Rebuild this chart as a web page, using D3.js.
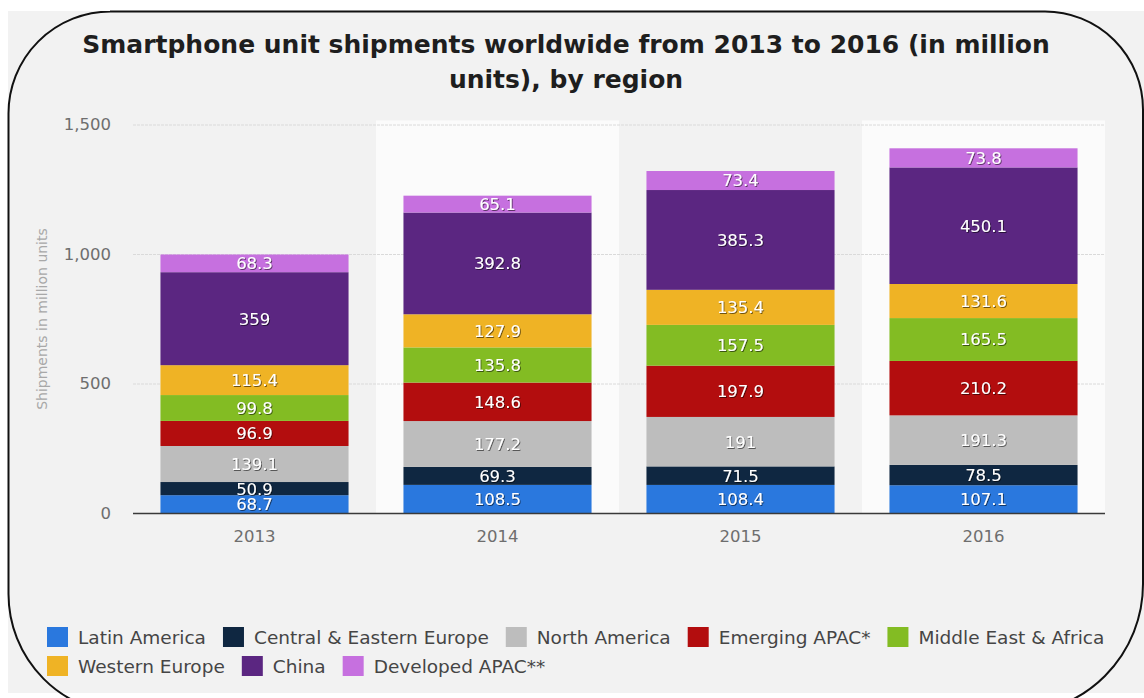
<!DOCTYPE html>
<html>
<head>
<meta charset="utf-8">
<script src="https://cdn.jsdelivr.net/npm/d3@7"></script>
<style>
  html, body { margin: 0; padding: 0; background: #ffffff; }
  svg { display: block; font-family: "DejaVu Sans", Verdana, sans-serif; }
</style>
</head>
<body>
<svg id="chart" width="1144" height="698"></svg>
<script>
// Smartphone shipments by region, million units
const years = ["2013", "2014", "2015", "2016"];
const regions = ["Latin America", "Central & Eastern Europe", "North America", "Emerging APAC*",
                 "Middle East & Africa", "Western Europe", "China", "Developed APAC**"];
const latinAmerica        = [68.7, 108.5, 108.4, 107.1];
const centralEasternEurope = [50.9, 69.3, 71.5, 78.5];
const northAmerica        = [139.1, 177.2, 191, 191.3];
const emergingApac        = [96.9, 148.6, 197.9, 210.2];
const middleEastAfrica    = [99.8, 135.8, 157.5, 165.5];
const westernEurope       = [115.4, 127.9, 135.4, 131.6];
const china               = [359, 392.8, 385.3, 450.1];
const developedApac       = [68.3, 65.1, 73.4, 73.8];
const yTicks = [0, 500, 1000, 1500];
const colors = ["#2a78de", "#0f2741", "#bdbdbd", "#b30d0e", "#83bc23", "#efb325", "#5b2681", "#c670df"];

const seriesValues = [latinAmerica, centralEasternEurope, northAmerica, emergingApac,
                      middleEastAfrica, westernEurope, china, developedApac];

// table rows: one per year, one key per region
const table = years.map((yr, i) => {
  const row = { year: yr };
  regions.forEach((r, k) => { row[r] = seriesValues[k][i]; });
  return row;
});

const svg = d3.select("#chart");

// screenshot-style backdrop and rounded frame
svg.append("rect").attr("x", 8).attr("y", 11).attr("width", 1136).attr("height", 682).attr("fill", "#f2f2f2");

const defs = svg.append("defs");
const shadow = defs.append("filter").attr("id", "lblShadow")
  .attr("x", "-20%").attr("y", "-30%").attr("width", "140%").attr("height", "160%");
shadow.append("feDropShadow").attr("dx", 0.9).attr("dy", 0.9).attr("stdDeviation", 0.7)
  .attr("flood-color", "#000").attr("flood-opacity", 0.6);

const x = d3.scaleBand().domain(years).range([133, 1105]).paddingInner(0).paddingOuter(0);
const barW = x.bandwidth() * 0.774;
const y = d3.scaleLinear().domain([0, 1500]).range([513, 124.5]);

// alternate column shading
svg.append("g").selectAll("rect").data(years.filter((d, i) => i % 2 === 1)).join("rect")
  .attr("x", d => x(d)).attr("width", x.bandwidth())
  .attr("y", y(1500) - 4).attr("height", y(0) - y(1500) + 4)
  .attr("fill", "#fbfbfb");

// gridlines
svg.append("g").selectAll("line").data(yTicks.filter(t => t > 0)).join("line")
  .attr("x1", 133).attr("x2", 1105)
  .attr("y1", d => y(d) + 0.5).attr("y2", d => y(d) + 0.5)
  .attr("stroke", "#dadada").attr("stroke-width", 1).attr("stroke-dasharray", "3,1");

// y tick labels
svg.append("g").selectAll("text").data(yTicks).join("text")
  .attr("x", 111).attr("y", d => y(d)).attr("dy", "0.36em")
  .attr("text-anchor", "end").attr("font-size", 16.5).attr("fill", "#6e6e6e")
  .text(d => d3.format(",")(d));

// y axis title
svg.append("text")
  .attr("transform", "translate(47,319) rotate(-90)")
  .attr("text-anchor", "middle").attr("font-size", 14).attr("fill", "#a8a8a8")
  .text("Shipments in million units");

// stacked bars
const stack = d3.stack().keys(regions)(table);
const layers = svg.append("g").selectAll("g").data(stack).join("g")
  .attr("fill", (d, i) => colors[i]);
layers.selectAll("rect").data(d => d).join("rect")
  .attr("x", d => x(d.data.year) + (x.bandwidth() - barW) / 2)
  .attr("width", barW)
  .attr("y", d => y(d[1]))
  .attr("height", d => y(d[0]) - y(d[1]));

// value labels inside segments
const labels = svg.append("g").attr("filter", "url(#lblShadow)");
stack.forEach(layer => {
  labels.selectAll(null).data(layer).join("text")
    .attr("x", d => x(d.data.year) + x.bandwidth() / 2)
    .attr("y", d => (y(d[0]) + y(d[1])) / 2)
    .attr("dy", "0.36em")
    .attr("text-anchor", "middle").attr("font-size", 16.5).attr("fill", "#ffffff")
    .text(d => String(d.data[layer.key]));
});

// baseline
svg.append("line").attr("x1", 133).attr("x2", 1105)
  .attr("y1", y(0) + 0.5).attr("y2", y(0) + 0.5)
  .attr("stroke", "#3a3a3a").attr("stroke-width", 1.5);

// x labels
svg.append("g").selectAll("text").data(years).join("text")
  .attr("x", d => x(d) + x.bandwidth() / 2).attr("y", 542)
  .attr("text-anchor", "middle").attr("font-size", 16.5).attr("fill", "#6e6e6e")
  .text(d => d);

// title
const title = svg.append("text").attr("text-anchor", "middle")
  .attr("font-size", 25).attr("font-weight", "bold").attr("fill", "#1e1e1e");
title.append("tspan").attr("x", 566).attr("y", 53)
  .text("Smartphone unit shipments worldwide from 2013 to 2016 (in million");
title.append("tspan").attr("x", 566).attr("y", 88).text("units), by region");

// legend
const legend = svg.append("g");
const rowBreak = 5;
let lx = 47;
regions.forEach((name, i) => {
  if (i === rowBreak) lx = 47;
  const row = i < rowBreak ? 0 : 1;
  const cy = 637 + row * 29;
  const g = legend.append("g");
  g.append("rect").attr("x", lx).attr("y", cy - 10).attr("width", 21).attr("height", 20)
    .attr("fill", colors[i]);
  const t = g.append("text").attr("x", lx + 31).attr("y", cy).attr("dy", "0.36em")
    .attr("font-size", 18.5).attr("fill", "#454545").text(name);
  lx += 31 + t.node().getComputedTextLength() + 17;
});

// rounded frame drawn over the backdrop
const frame = d3.path();
frame.moveTo(110, 11.5);
frame.lineTo(1045, 11.5);
frame.arcTo(1143, 11.5, 1143, 110, 98);
frame.lineTo(1143, 584);
frame.arcTo(1143, 714, 1013, 714, 130);
frame.lineTo(130, 714);
frame.arcTo(8.5, 714, 8.5, 594, 120);
frame.lineTo(8.5, 113);
frame.arcTo(8.5, 11.5, 110, 11.5, 102);
frame.closePath();
svg.append("path").attr("d", frame.toString())
  .attr("fill", "none").attr("stroke", "#111").attr("stroke-width", 2);
</script>
</body>
</html>
